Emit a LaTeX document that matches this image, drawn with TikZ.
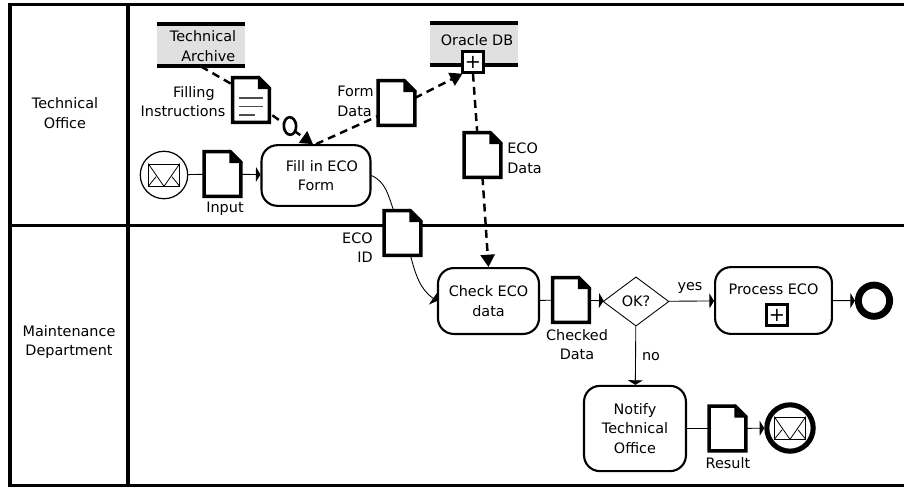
\documentclass[tikz,border=0pt]{standalone}
\usepackage{fontspec}
\setmainfont{DejaVu Sans}
\usetikzlibrary{arrows.meta,shapes.geometric}
\tikzset{
  every node/.style={font=\fontsize{8.2}{11.2}\selectfont,inner sep=0pt},
  lane/.style={line width=1.8pt},
  laneb/.style={line width=1.3pt},
  task/.style={draw,rounded corners=9pt,line width=1.2pt,align=center,inner sep=0pt},
  docbox/.style={minimum width=20.5pt,minimum height=25pt},
  docline/.style={line width=2pt,fill=white,line join=miter},
  flow/.style={line width=0.5pt,-{Triangle[length=2.6pt,width=8.5pt]}},
  plainflow/.style={line width=0.5pt},
  assoc/.style={line width=1.4pt,dash pattern=on 4.5pt off 3pt},
  assocend/.style={assoc,-{Triangle[length=7pt,width=8pt]}},
  storage/.style={fill=black!12,minimum width=50pt,minimum height=24pt,align=center},
  subbox/.style={draw,fill=white,line width=1.8pt,minimum size=11.5pt},
  envelope/.style={draw,fill=white,line width=0.45pt,minimum width=17.5pt,minimum height=12.5pt}
}
% document with a folded corner
\newcommand{\docfile}[3]{
  \node[docbox] (#1) at (#2,#3) {};
  \draw[docline] (#1.north west) -- ([xshift=-6pt]#1.north east) -- ([yshift=-6pt]#1.north east) -- (#1.south east) -- (#1.south west) -- cycle;
  \draw[line width=1pt,fill=black] ([xshift=-6pt]#1.north east) -- ([xshift=-6pt,yshift=-6pt]#1.north east) -- ([yshift=-6pt]#1.north east) -- cycle;
}
% letter inside an event
\newcommand{\letter}[1]{
  \node[envelope] (#1mail) at (#1) {};
  \draw[line width=0.45pt] (#1mail.north west) -- (#1mail.south) -- (#1mail.north east);
  \draw[line width=0.45pt] (#1mail.south west) -- ([xshift=-4.5pt,yshift=5.5pt]#1mail.south);
  \draw[line width=0.45pt] (#1mail.south east) -- ([xshift=4.5pt,yshift=5.5pt]#1mail.south);
}
\begin{document}
\begin{tikzpicture}[x=0.02cm,y=-0.02cm]
    \useasboundingbox (0,0) rectangle (904,487);

    % Pool and lanes
    \coordinate (tl) at (10,4.5);
    \coordinate (tr) at (904,4.5);
    \coordinate (bl) at (10,485.5);
    \coordinate (br) at (904,485.5);
    \coordinate (midl) at (10,225.5);
    \coordinate (midr) at (904,225.5);
    \coordinate (headt) at (128,4.5);
    \coordinate (headb) at (128,485.5);
    \draw[lane] (tr) -- (tl) -- (bl) -- (br);
    \draw[lane] (headt) -- (headb);
    \draw[laneb] (midl) -- (midr);
    \node[align=center] (office) at (65,113) {Technical\\Office};
    \node[align=center] (maint) at (69,342) {Maintenance\\Department};

    % Data stores
    \node[storage] (archive) at (201,45) {};
    \node[storage] (oracle) at (474,44) {};
    \draw[line width=2.3pt] (archive.north west) -- (archive.north east);
    \draw[line width=2.3pt] (archive.south west) -- (archive.south east);
    \draw[line width=2.3pt] (oracle.north west) -- (oracle.north east);
    \draw[line width=2.3pt] (oracle.south west) -- (oracle.south east);
    \node[align=center] (archivetext) at (203,46) {Technical\\\hspace*{6pt}Archive};
    \node (oracletext) at (477,40) {Oracle DB};
    \node[subbox] (oracleplus) at (473,62) {\fontsize{11}{11}\selectfont +};

    % Tasks
    \node[task,minimum width=62pt,minimum height=34.5pt] (fill) at (316,175.5) {\hspace*{6.8pt}Fill in ECO\\Form};
    \node[task,minimum width=57.5pt,minimum height=37.5pt] (check) at (488.5,301) {Check ECO\\data};
    \node[task,minimum width=66.5pt,minimum height=38pt,text depth=13pt] (process) at (773.5,300.5) {Process ECO};
    \node[task,minimum width=58pt,minimum height=48.5pt] (notify) at (635,428.5) {Notify\\Technical\\Office};
    \node[subbox] (processplus) at (777,315) {\fontsize{11}{11}\selectfont +};

    % Gateway and events
    \node[draw,diamond,aspect=1.35,line width=0.5pt,minimum width=37.5pt,minimum height=28pt] (ok) at (636,301.5) {OK?};
    \node[draw,circle,line width=0.7pt,minimum size=27pt] (start) at (164,175) {};
    \node[draw,circle,line width=3.9pt,minimum size=17.8pt] (finish) at (874,300.7) {};
    \node[draw,circle,line width=2.9pt,minimum size=26.4pt] (result) at (790,428) {};
    \letter{start}
    \letter{result}

    % Documents
    \docfile{input}{222.5}{174}
    \docfile{ecoid}{402.5}{233}
    \docfile{checked}{571}{300}
    \docfile{resultdoc}{727.5}{428.5}
    \docfile{instr}{251}{100}
    \docfile{formdata}{396.5}{103}
    \docfile{ecodata}{482.5}{155}
    \draw[black!70,line width=0.7pt] (239,98) -- (263,98);
    \draw[black!70,line width=0.7pt] (239,106.5) -- (263,106.5);
    \draw[black!70,line width=0.7pt] (239,115) -- (255,115);

    % Sequence flows
    \draw[plainflow] (start) -- (input);
    \draw[flow] (input) -- (fill);
    \draw[plainflow] (fill.east) to[out=-25,in=110] ([xshift=-5pt]ecoid.north);
    \draw[flow] ([xshift=4.5pt]ecoid.south) to[out=-75,in=145] (check.west);
    \draw[plainflow] (check) -- (checked);
    \draw[flow] (checked) -- (ok);
    \draw[flow] (ok) -- (process);
    \draw[flow] (ok) -- (notify);
    \draw[flow] (process) -- (finish);
    \draw[plainflow] (notify) -- (resultdoc);
    \draw[flow] (resultdoc) -- (result);

    % Data associations
    \draw[assoc] (archive.south) -- ([yshift=-4pt]instr.north west);
    \draw[assocend] ([xshift=1.7pt,yshift=4pt]instr.south east) -- ([xshift=-1.7pt]fill.north);
    \draw[assoc] (fill.north) -- ([yshift=-7.4pt]formdata.west);
    \draw[assocend] ([yshift=2.8pt]formdata.east) -- ([xshift=-6pt]oracleplus.south);
    \draw[assoc] (oracleplus.south) -- ([xshift=-3pt]ecodata.north);
    \draw[assocend] (ecodata.south) -- (check.north);
    \node[draw,ellipse,fill=white,line width=1.5pt,minimum width=7pt,minimum height=10pt,rotate=3] (xor) at (290,126) {};

    % Labels
    \node[align=left] (instrtext) at (183,101.5) {\hspace*{18.5pt}Filling\\Instructions};
    \node[align=left,anchor=west] (formtext) at (337,101.5) {Form\\Data};
    \node[align=left,anchor=west] (ecotext) at (507,158.5) {ECO\\Data};
    \node (inputtext) at (225,209) {Input};
    \node[align=right,anchor=east] (idtext) at (373,247.5) {ECO\\ID};
    \node[align=center] (checkedtext) at (577,344.5) {Checked\\Data};
    \node (yes) at (690,288) {yes};
    \node (no) at (651,357) {no};
    \node (resulttext) at (728,463) {Result};
\end{tikzpicture}
\end{document}
